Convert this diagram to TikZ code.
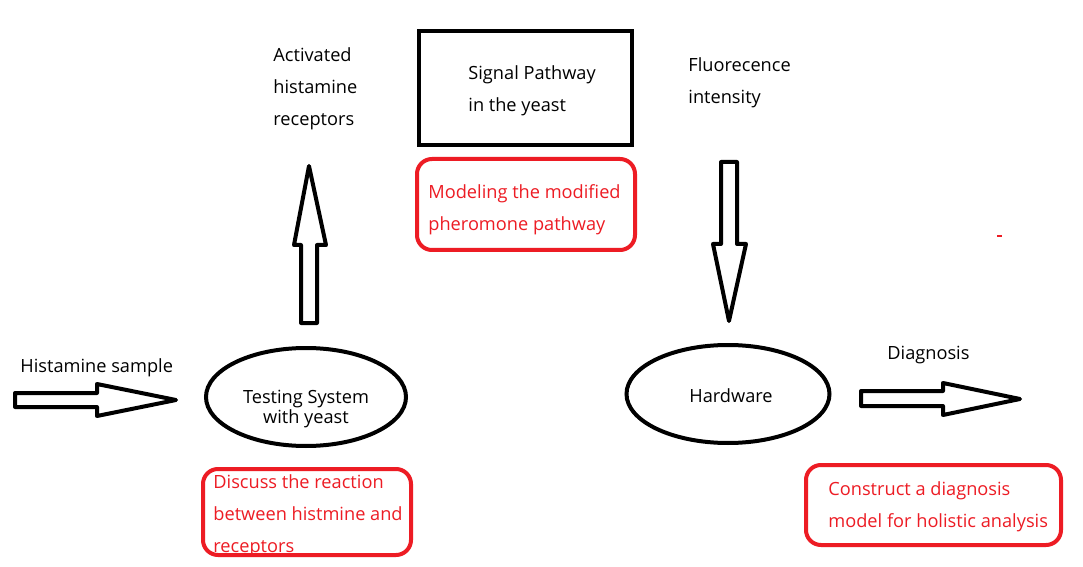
\documentclass[tikz,border=0pt]{standalone}
\usepackage{fontspec}
\setmainfont{Open Sans}
\usetikzlibrary{shapes.geometric}
\definecolor{paintRed}{RGB}{237,28,36}

\begin{document}
\begin{tikzpicture}[
        x=0.5pt, y=-0.5pt,
        every node/.style={font=\fontsize{9.1}{16}\selectfont, inner sep=0pt},
        plainText/.style={anchor=west, align=left, yshift=-1.5pt},
        redText/.style={plainText, text=paintRed},
        redBox/.style={draw=paintRed, line width=2pt, rounded corners=7.5pt},
        blackBox/.style={draw, line width=2pt},
        stageEllipse/.style={draw, ellipse, line width=2pt},
        blockArrow/.style={draw, line width=2pt, line join=round}
    ]
        \useasboundingbox[fill=white] (0,0) rectangle (1083,567);

        % Input
        \node[plainText] (sample) at (20,365) {Histamine sample};
        \draw[blockArrow] (15,393) -- (97,393) -- (97,384) -- (176,400)
            -- (97,416) -- (97,407) -- (15,407) -- cycle;

        % Testing system
        \node[stageEllipse, minimum width=100pt, minimum height=49pt] (testing) at (306,397) {};
        \node[align=center, font=\fontsize{9.1}{10}\selectfont] (testingText) at ([yshift=-6pt]testing.center) {Testing System\\with yeast};
        \node[redBox, minimum width=104pt, minimum height=43pt] (discussBox) at (307,512) {};
        \node[redText] (discussText) at (213,513) {Discuss the reaction\\between histmine and\\receptors};

        % Receptors
        \draw[blockArrow] (301,323) -- (301,245) -- (294,245) -- (309,166)
            -- (326,245) -- (317,245) -- (317,323) -- cycle;
        \node[plainText] (receptors) at (273,86) {Activated\\histamine\\receptors};

        % Signal pathway
        \node[blackBox, minimum width=106.5pt, minimum height=57pt] (signalBox) at (525.5,88) {};
        \node[plainText] (signalText) at (468,87.5) {Signal Pathway\\in the yeast};
        \node[redBox, minimum width=109pt, minimum height=45.5pt] (modelBox) at (526,204.5) {};
        \node[redText] (modelText) at (428,206.5) {Modeling the modified\\pheromone pathway};

        % Fluorescence
        \node[plainText] (fluor) at (688,80) {Fluorecence\\intensity};
        \draw[blockArrow] (721,162) -- (737,162) -- (737,244) -- (746,244)
            -- (729,321) -- (713,244) -- (721,244) -- cycle;

        % Hardware
        \node[stageEllipse, minimum width=101.5pt, minimum height=49pt] (hardware) at (728,394) {};
        \node (hardwareText) at (731,395.5) {Hardware};

        % Diagnosis
        \node[plainText] (diagnosis) at (887,352) {Diagnosis};
        \draw[blockArrow] (861,391) -- (943,391) -- (943,383) -- (1020,399)
            -- (943,415) -- (943,406) -- (861,406) -- cycle;
        \node[redBox, minimum width=127.5pt, minimum height=40pt] (constructBox) at (933.5,505) {};
        \node[redText] (constructText) at (828,504) {Construct a diagnosis\\model for holistic analysis};

        % stray mark
        \draw[paintRed, line width=1pt] (997,236) -- (1002,236);

    \end{tikzpicture}
\end{document}
